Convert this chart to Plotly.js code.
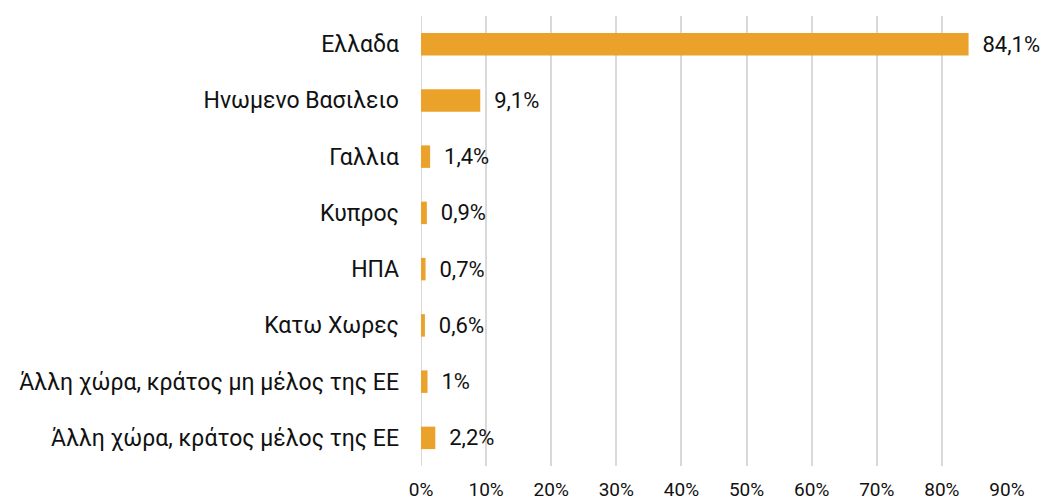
<!DOCTYPE html>
<html>
<head>
<meta charset="utf-8">
<script src="https://cdn.plot.ly/plotly-3.0.1.min.js"></script>
<style>html,body{margin:0;padding:0;background:#fff;}#chart{width:1049px;height:503px;}</style>
</head>
<body>
<div id="chart"></div>
<script>
const categories = ["Ελλαδα", "Ηνωμενο Βασιλειο", "Γαλλια", "Κυπρος", "ΗΠΑ", "Κατω Χωρες", "Άλλη χώρα, κράτος μη μέλος της ΕΕ", "Άλλη χώρα, κράτος μέλος της ΕΕ"];
const values = [84.1, 9.1, 1.4, 0.9, 0.7, 0.6, 1.0, 2.2];
const valueLabels = ["84,1%", "9,1%", "1,4%", "0,9%", "0,7%", "0,6%", "1%", "2,2%"];
const tickVals = [0, 10, 20, 30, 40, 50, 60, 70, 80, 90];
const tickText = ["0%", "10%", "20%", "30%", "40%", "50%", "60%", "70%", "80%", "90%"];

const font = "Roboto, 'DejaVu Sans', sans-serif";
const trace = {
  type: 'bar',
  orientation: 'h',
  y: categories,
  x: values,
  marker: {color: '#EBA22A'},
  text: valueLabels.map(t => '  ' + t),
  textposition: 'outside',
  constraintext: 'none',
  cliponaxis: false,
  textfont: {family: font, size: 22, color: '#111'},
  hoverinfo: 'none'
};
const layout = {
  width: 1049, height: 503,
  margin: {l: 421, r: 42, t: 16, b: 37},
  paper_bgcolor: '#fff', plot_bgcolor: '#fff',
  bargap: 0.6,
  showlegend: false,
  xaxis: {
    range: [0, 90], tickvals: tickVals, ticktext: tickText,
    showgrid: true, gridcolor: '#d9d9d9', gridwidth: 2,
    zeroline: false, showline: false,
    tickfont: {family: font, size: 19, color: '#111'},
    ticks: '', ticklabelstandoff: 10
  },
  yaxis: {
    autorange: 'reversed', type: 'category',
    showgrid: false, zeroline: false, showline: false,
    tickfont: {family: font, size: 23, color: '#111'},
    ticks: '', ticklabelstandoff: 21
  },
  shapes: [{type: 'line', xref: 'x', yref: 'paper', x0: 0, x1: 0, y0: 0, y1: 1, line: {color: '#d9d9d9', width: 2}, layer: 'below'}]
};
Plotly.newPlot('chart', [trace], layout, {displayModeBar: false, staticPlot: true});
</script>
</body>
</html>
